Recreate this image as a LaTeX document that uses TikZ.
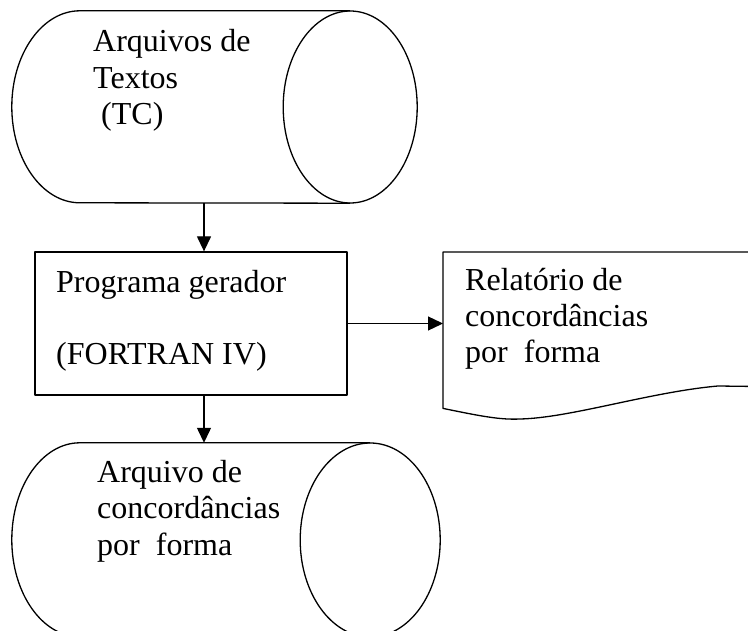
\documentclass[tikz,border=0pt]{standalone}
\usepackage{fontspec}
\setmainfont{Liberation Serif}
\usetikzlibrary{arrows.meta,positioning,calc}
\tikzset{
  base/.style={draw=black, line width=1.3pt, line join=round},
  corpo/.style={rectangle, inner sep=0pt},
  proc/.style={base, rectangle, minimum width=312pt, minimum height=143pt, inner sep=0pt},
  docbox/.style={rectangle, minimum width=305pt, minimum height=156pt, inner sep=0pt, anchor=north west},
  seta/.style={base, -{Triangle[length=15pt,width=14pt]}},
  lab/.style={font=\fontsize{32}{36.5}\selectfont, align=left, inner sep=0pt, anchor=base west},
}
\begin{document}
\begin{tikzpicture}[x=1pt,y=-1pt]
  \useasboundingbox (0,0) rectangle (748,631);
  \coordinate (eixo) at (204,0);

  \node[corpo, minimum width=270pt, minimum height=192pt] (arqTC) at (215,107) {};
  \node[proc] (prog) at (191,323.5) {};
  \node[docbox] (rel) at (443,252) {};
  \node[corpo, minimum width=290pt, minimum height=194pt] (arqConc) at (225,540) {};

  % cilindros (arquivos)
  \draw[base] (arqTC.north east) -- (arqTC.north west)
    arc[start angle=270, end angle=90, x radius=68, y radius=96] -- (arqTC.south east);
  \draw[base] (arqTC.east) ellipse[x radius=67, y radius=96];
  \draw[base] (arqConc.north east) -- (arqConc.north west)
    arc[start angle=270, end angle=90, x radius=68, y radius=97] -- (arqConc.south east);
  \draw[base] (arqConc.east) ellipse[x radius=70, y radius=97];

  % folha de relatorio, aberta a direita
  \draw[base] (rel.north east) -- (rel.north west) -- (rel.south west)
    .. controls (480,416) and (500,420) .. (520,419)
    .. controls (570,418) and (650,392) .. (718,386) -- ($(rel.south east)+(0,-22)$);

  \node[lab] (tTC) at (93,125) {Arquivos de\\Textos\\~(TC)};
  \node[lab] (tProg) at (56,365) {Programa gerador\\{}\\(FORTRAN IV)};
  \node[lab] (tRel) at (465,363) {Relatório de\\concordâncias\\por\ \ forma};
  \node[lab] (tConc) at (97,555) {Arquivo de\\concordâncias\\por\ \ forma};

  \draw[seta] (arqTC.south -| eixo) -- (prog.north -| eixo);
  \draw[seta] (prog.east) -- (prog.east -| rel.west);
  \draw[seta] (prog.south -| eixo) -- (arqConc.north -| eixo);
\end{tikzpicture}
\end{document}
